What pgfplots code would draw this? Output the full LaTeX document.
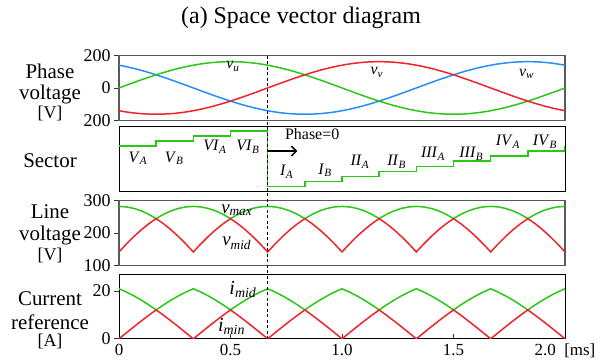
\documentclass[border=0pt]{standalone}
\usepackage{fontspec}
\setmainfont{Liberation Serif}
\usepackage{pgfplots}
\pgfplotsset{compat=1.18}
\usepackage{pgfplotstable}
\usetikzlibrary{arrows.meta}
\definecolor{cg}{RGB}{40,200,20}
\definecolor{cr}{RGB}{240,35,45}
\definecolor{cb}{RGB}{40,140,250}
\newcommand\fs[1]{\fontsize{#1}{#1}\selectfont}
\newcommand\sub[2]{\textit{#1}\textsubscript{\textit{#2}}}

\pgfplotstableread{
t vu vv vw
0.00 0 -141.2 141.2
0.05 25.5 -152.2 126.7
0.10 50.4 -159.4 109.1
0.15 74.0 -162.8 88.8
0.20 95.8 -162.1 66.3
0.25 115.3 -157.4 42.2
0.30 131.9 -148.9 17.0
0.35 145.2 -136.7 -8.5
0.40 155.0 -121.1 -33.9
0.45 161.0 -102.6 -58.4
0.50 163.0 -81.5 -81.5
0.55 161.0 -58.4 -102.6
0.60 155.0 -33.9 -121.1
0.65 145.2 -8.5 -136.7
0.70 131.9 17.0 -148.9
0.75 115.3 42.2 -157.4
0.80 95.8 66.3 -162.1
0.85 74.0 88.8 -162.8
0.90 50.4 109.1 -159.4
0.95 25.5 126.7 -152.2
1.00 0 141.2 -141.2
1.05 -25.5 152.2 -126.7
1.10 -50.4 159.4 -109.1
1.15 -74.0 162.8 -88.8
1.20 -95.8 162.1 -66.3
1.25 -115.3 157.4 -42.2
1.30 -131.9 148.9 -17.0
1.35 -145.2 136.7 8.5
1.40 -155.0 121.1 33.9
1.45 -161.0 102.6 58.4
1.50 -163.0 81.5 81.5
1.55 -161.0 58.4 102.6
1.60 -155.0 33.9 121.1
1.65 -145.2 8.5 136.7
1.70 -131.9 -17.0 148.9
1.75 -115.3 -42.2 157.4
1.80 -95.8 -66.3 162.1
1.85 -74.0 -88.8 162.8
1.90 -50.4 -109.1 159.4
1.95 -25.5 -126.7 152.2
2.00 0 -141.2 141.2
}\phasetab

\pgfplotstableread{
t vmax vmid imid imin
0 282.3 141.2 20.96 0
0.0333 280.8 165.9 19.58 2.53
0.0667 276.1 188.9 17.98 5.03
0.1 268.5 209.8 16.19 7.48
0.1333 257.9 228.4 14.22 9.84
0.1667 244.5 244.5 12.10 12.10
0.2 257.9 228.4 14.22 9.84
0.2333 268.5 209.8 16.19 7.48
0.2667 276.1 188.9 17.98 5.03
0.3 280.8 165.9 19.58 2.53
0.3333 282.3 141.2 20.96 0
0.3667 280.8 165.9 19.58 2.53
0.4 276.1 188.9 17.98 5.03
0.4333 268.5 209.8 16.19 7.48
0.4667 257.9 228.4 14.22 9.84
0.5 244.5 244.5 12.10 12.10
0.5333 257.9 228.4 14.22 9.84
0.5667 268.5 209.8 16.19 7.48
0.6 276.1 188.9 17.98 5.03
0.6333 280.8 165.9 19.58 2.53
0.6667 282.3 141.2 20.96 0
0.7 280.8 165.9 19.58 2.53
0.7333 276.1 188.9 17.98 5.03
0.7667 268.5 209.8 16.19 7.48
0.8 257.9 228.4 14.22 9.84
0.8333 244.5 244.5 12.10 12.10
0.8667 257.9 228.4 14.22 9.84
0.9 268.5 209.8 16.19 7.48
0.9333 276.1 188.9 17.98 5.03
0.9667 280.8 165.9 19.58 2.53
1.0 282.3 141.2 20.96 0
1.0333 280.8 165.9 19.58 2.53
1.0667 276.1 188.9 17.98 5.03
1.1 268.5 209.8 16.19 7.48
1.1333 257.9 228.4 14.22 9.84
1.1667 244.5 244.5 12.10 12.10
1.2 257.9 228.4 14.22 9.84
1.2333 268.5 209.8 16.19 7.48
1.2667 276.1 188.9 17.98 5.03
1.3 280.8 165.9 19.58 2.53
1.3333 282.3 141.2 20.96 0
1.3667 280.8 165.9 19.58 2.53
1.4 276.1 188.9 17.98 5.03
1.4333 268.5 209.8 16.19 7.48
1.4667 257.9 228.4 14.22 9.84
1.5 244.5 244.5 12.10 12.10
1.5333 257.9 228.4 14.22 9.84
1.5667 268.5 209.8 16.19 7.48
1.6 276.1 188.9 17.98 5.03
1.6333 280.8 165.9 19.58 2.53
1.6667 282.3 141.2 20.96 0
1.7 280.8 165.9 19.58 2.53
1.7333 276.1 188.9 17.98 5.03
1.7667 268.5 209.8 16.19 7.48
1.8 257.9 228.4 14.22 9.84
1.8333 244.5 244.5 12.10 12.10
1.8667 257.9 228.4 14.22 9.84
1.9 268.5 209.8 16.19 7.48
1.9333 276.1 188.9 17.98 5.03
1.9667 280.8 165.9 19.58 2.53
2.0 282.3 141.2 20.96 0
}\linetab

\pgfplotsset{
  panel/.style={scale only axis, width=446bp, height=64.5bp, xmin=0, xmax=2,
    anchor=north west, tick align=outside, tick pos=left,
    major tick length=5bp, tick style={black!80, line width=0.8bp},
    xtick=\empty, yticklabel style={font=\fs{18}},
    /pgf/number format/assume math mode=true},
  gframe/.style={axis line style={black!65, line width=1.2bp}},
  kframe/.style={axis line style={black, line width=0.8bp}},
  curve/.style={line width=1.5bp, no markers},
}

\begin{document}
\begin{tikzpicture}[x=1bp,y=1bp]
\path[use as bounding box] (0,0) rectangle (602,-360);
\node[font=\fs{24}] at (301,-18) {(a) Space vector diagram};

% left labels
\node[anchor=base, font=\fs{21}] at (50,-78) {Phase};
\node[anchor=base, font=\fs{21}] at (50,-99) {voltage};
\node[anchor=base, font=\fs{18}] at (50,-118) {[V]};
\node[anchor=base, font=\fs{21}] at (50,-167) {Sector};
\node[anchor=base, font=\fs{21}] at (50,-218) {Line};
\node[anchor=base, font=\fs{21}] at (50,-240) {voltage};
\node[anchor=base, font=\fs{18}] at (50,-260) {[V]};
\node[anchor=base, font=\fs{21}] at (50,-305) {Current};
\node[anchor=base, font=\fs{21}] at (50,-329) {reference};
\node[anchor=base, font=\fs{18}] at (50,-346) {[A]};

% Panel 1: phase voltage
\begin{axis}[panel, gframe, at={(119bp,-55.7bp)}, ymin=-200, ymax=200,
  ytick={-200,0,200}, yticklabels={200,0,200}]
\addplot[curve, cb, smooth] table[x=t, y=vw] {\phasetab};
\addplot[curve, cg, smooth] table[x=t, y=vu] {\phasetab};
\addplot[curve, cr, smooth] table[x=t, y=vv] {\phasetab};
\node[font=\fs{16}] at (axis cs:0.511,132) {\sub{v}{u}};
\node[font=\fs{16}] at (axis cs:1.156,98) {\sub{v}{v}};
\node[font=\fs{16}] at (axis cs:1.828,87) {\sub{v}{w}};
\end{axis}

% Panel 2: sector
\begin{axis}[panel, kframe, at={(119bp,-126.7bp)}, ymin=0.08, ymax=12.8, ytick=\empty]
\addplot[curve, cg] coordinates {
(0,9) (0.1667,9) (0.1667,10) (0.3333,10) (0.3333,11) (0.5,11) (0.5,12)
(0.6667,12) (0.6667,1) (0.8333,1) (0.8333,2) (1,2) (1,3) (1.1667,3)
(1.1667,4) (1.3333,4) (1.3333,5) (1.5,5) (1.5,6) (1.6667,6) (1.6667,7)
(1.8333,7) (1.8333,8) (2,8) (2,9)};
\node[font=\fs{16}] at (axis cs:0.085,6.6) {\sub{V}{A}};
\node[font=\fs{16}] at (axis cs:0.247,6.6) {\sub{V}{B}};
\node[font=\fs{16}] at (axis cs:0.43,8.84) {\sub{VI}{A}};
\node[font=\fs{16}] at (axis cs:0.578,8.84) {\sub{VI}{B}};
\node[font=\fs{16}] at (axis cs:0.752,3.9) {\sub{I}{A}};
\node[font=\fs{16}] at (axis cs:0.924,4.2) {\sub{I}{B}};
\node[font=\fs{16}] at (axis cs:1.08,5.9) {\sub{II}{A}};
\node[font=\fs{16}] at (axis cs:1.245,5.9) {\sub{II}{B}};
\node[font=\fs{16}] at (axis cs:1.408,7.5) {\sub{III}{A}};
\node[font=\fs{16}] at (axis cs:1.58,7.5) {\sub{III}{B}};
\node[font=\fs{16}] at (axis cs:1.744,9.8) {\sub{IV}{A}};
\node[font=\fs{16}] at (axis cs:1.91,9.8) {\sub{IV}{B}};
\draw[-{Straight Barb[length=5bp,width=10bp]}, line width=1.5bp] (axis cs:0.6667,8) -- (axis cs:0.80,8);
\node[anchor=base west, inner sep=0pt, font=\fs{16}] at (axis cs:0.744,10.37) {Phase=0};
\end{axis}

% Panel 3: line voltage
\begin{axis}[panel, gframe, at={(119bp,-200.7bp)}, ymin=100, ymax=300,
  ytick={100,200,300}]
\addplot[curve, cg] table[x=t, y=vmax] {\linetab};
\addplot[curve, cr] table[x=t, y=vmid] {\linetab};
\node[font=\fs{19}] at (axis cs:0.528,271) {\sub{v}{max}};
\node[font=\fs{19}] at (axis cs:0.528,168) {\sub{v}{mid}};
\end{axis}

% Panel 4: current reference
\begin{axis}[panel, kframe, at={(119bp,-274.3bp)}, ymin=0, ymax=27,
  ytick={0,20}, xtick={0,0.5,1,1.5,2},
  xticklabels={0,0.5,1.0,1.5,2.0\hspace{0.5em}[ms]},
  x tick style={yshift=5bp},
  xticklabel style={font=\fs{17}, yshift=3.5bp}]
\addplot[curve, cg] table[x=t, y=imid] {\linetab};
\addplot[curve, cr] table[x=t, y=imin] {\linetab};
\node[font=\fs{20}] at (axis cs:0.556,20.8) {\sub{i}{mid}};
\node[font=\fs{20}] at (axis cs:0.505,5.1) {\sub{i}{min}};
\end{axis}

\draw[black, line width=1.5bp, dash pattern=on 3bp off 2.5bp] (267.7,-55.7) -- (267.7,-339);
\end{tikzpicture}
\end{document}
